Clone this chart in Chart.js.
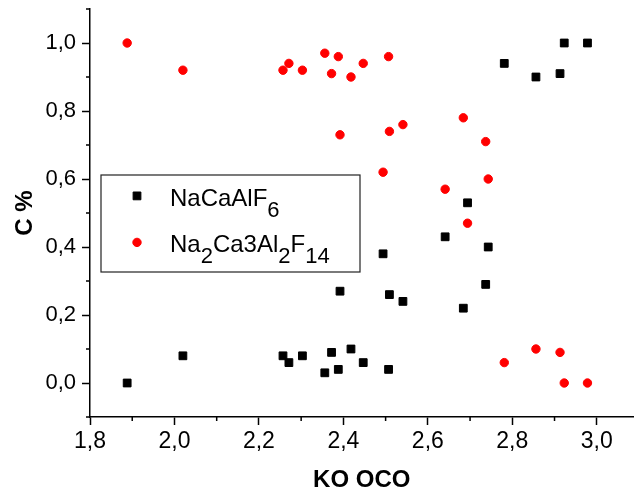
<!DOCTYPE html>
<html>
<head>
<meta charset="utf-8">
<script src="https://cdn.jsdelivr.net/npm/chart.js@4/dist/chart.umd.min.js"></script>
<style>
body { margin: 0; background: #fff; }
#wrap { width: 640px; height: 495px; position: relative; }
</style>
</head>
<body>
<div id="wrap"><canvas id="chart"></canvas></div>
<script>
// KO OCO (x) – shared by both series
const koOco = [1.888, 2.020, 2.257, 2.271, 2.303, 2.356, 2.372, 2.388, 2.418, 2.447, 2.507,
               2.392, 2.494, 2.509, 2.541, 2.641, 2.684, 2.694, 2.737, 2.743,
               2.781, 2.856, 2.913, 2.923, 2.978];
const naCaAlF6 = [0.00, 0.08, 0.08, 0.06, 0.08, 0.03, 0.09, 0.04, 0.10, 0.06, 0.04,
                  0.27, 0.38, 0.26, 0.24, 0.43, 0.22, 0.53, 0.29, 0.40,
                  0.94, 0.90, 0.91, 1.00, 1.00];
const na2Ca3Al2F14 = [1.00, 0.92, 0.92, 0.94, 0.92, 0.97, 0.91, 0.96, 0.90, 0.94, 0.96,
                      0.73, 0.62, 0.74, 0.76, 0.57, 0.78, 0.47, 0.71, 0.60,
                      0.06, 0.10, 0.09, 0.00, 0.00];

const xTicks = [1.8, 2.0, 2.2, 2.4, 2.6, 2.8, 3.0];
const xTickLabels = ['1,8', '2,0', '2,2', '2,4', '2,6', '2,8', '3,0'];
const xMinorTicks = [1.9, 2.1, 2.3, 2.5, 2.7, 2.9];
const yTicks = [0, 0.2, 0.4, 0.6, 0.8, 1.0];
const yTickLabels = ['0,0', '0,2', '0,4', '0,6', '0,8', '1,0'];
const yMinorTicks = [-0.1, 0.1, 0.3, 0.5, 0.7, 0.9, 1.1];

const seriesNames = ['NaCaAlF6', 'Na2Ca3Al2F14'];
// legend text pieces: [text, subscript?]
const legendParts = [
    [['NaCaAlF', false], ['6', true]],
    [['Na', false], ['2', true], ['Ca3Al', false], ['2', true], ['F', false], ['14', true]]
];

const FONT = 'Arial, "Liberation Sans", sans-serif';

// small ticks between the labelled ones
const minorTicks = {
    id: 'minorTicks',
    afterDraw(chart) {
        const {ctx, chartArea, scales: {x, y}} = chart;
        ctx.save();
        ctx.strokeStyle = '#000';
        ctx.lineWidth = 1.5;
        ctx.beginPath();
        xMinorTicks.forEach(v => {
            const px = x.getPixelForValue(v);
            ctx.moveTo(px, chartArea.bottom);
            ctx.lineTo(px, chartArea.bottom + 4);
        });
        yMinorTicks.forEach(v => {
            const py = y.getPixelForValue(v);
            ctx.moveTo(chartArea.left, py);
            ctx.lineTo(chartArea.left - 4, py);
        });
        ctx.stroke();
        ctx.restore();
    }
};

// boxed legend with subscripts
const formulaLegend = {
    id: 'formulaLegend',
    afterDraw(chart) {
        const ctx = chart.ctx;
        const rows = [205.5, 252];
        ctx.save();
        ctx.strokeStyle = '#222';
        ctx.lineWidth = 1.2;
        ctx.strokeRect(101, 175, 259, 97);

        chart.data.datasets.forEach((ds, i) => {
            ctx.fillStyle = ds.backgroundColor;
            ctx.strokeStyle = ds.borderColor;
            ctx.lineWidth = ds.borderWidth;
            Chart.helpers.drawPoint(ctx, {
                pointStyle: ds.pointStyle,
                radius: ds.pointRadius,
                borderWidth: ds.borderWidth,
                rotation: 0
            }, 137, rows[i] - 9.6);

            let tx = 170;
            ctx.fillStyle = '#000';
            ctx.textBaseline = 'alphabetic';
            legendParts[i].forEach(([txt, sub]) => {
                ctx.font = (sub ? '22px ' : '24px ') + FONT;
                ctx.fillText(txt, tx, rows[i] + (sub ? 11 : 0));
                tx += ctx.measureText(txt).width;
            });
        });
        ctx.restore();
    }
};

new Chart(document.getElementById('chart'), {
    type: 'scatter',
    data: {
        datasets: [{
            label: seriesNames[0],
            data: koOco.map((x, i) => ({x: x, y: naCaAlF6[i]})),
            pointStyle: 'rect',
            pointRadius: 5.5,
            backgroundColor: '#000',
            borderColor: '#000',
            borderWidth: 1
        }, {
            label: seriesNames[1],
            data: koOco.map((x, i) => ({x: x, y: na2Ca3Al2F14[i]})),
            pointStyle: 'circle',
            pointRadius: 4.2,
            backgroundColor: '#ff0000',
            borderColor: '#ff0000',
            borderWidth: 1
        }]
    },
    options: {
        responsive: true,
        maintainAspectRatio: false,
        animation: false,
        layout: { padding: { top: 9, right: 0, bottom: 0, left: 0 } },
        plugins: {
            legend: { display: false },
            tooltip: { enabled: false }
        },
        scales: {
            x: {
                type: 'linear',
                position: 'bottom',
                min: 1.8,
                max: 3.087,
                afterBuildTicks: s => { s.ticks = xTicks.map(v => ({value: v})); },
                afterFit: s => { s.height = 78; s.paddingLeft = 0; s.paddingRight = 0; },
                grid: { drawOnChartArea: false, tickLength: 8, tickColor: '#000', tickWidth: 1.5 },
                border: { display: true, color: '#000', width: 1.5 },
                ticks: {
                    callback: (v, i) => xTickLabels[i],
                    color: '#000',
                    font: { family: FONT, size: 23 },
                    padding: 3,
                    maxRotation: 0,
                    autoSkip: false
                },
                title: {
                    display: true,
                    text: 'KO OCO',
                    color: '#000',
                    font: { family: FONT, size: 24, weight: 'bold' },
                    padding: { top: 0, bottom: 0 }
                }
            },
            y: {
                type: 'linear',
                min: -0.1,
                max: 1.1,
                afterBuildTicks: s => { s.ticks = yTicks.map(v => ({value: v})); },
                afterFit: s => { s.width = 90; s.paddingTop = 0; s.paddingBottom = 0; },
                grid: { drawOnChartArea: false, tickLength: 8, tickColor: '#000', tickWidth: 1.5 },
                border: { display: true, color: '#000', width: 1.5 },
                ticks: {
                    callback: (v, i) => yTickLabels[i],
                    color: '#000',
                    font: { family: FONT, size: 22 },
                    padding: 6,
                    autoSkip: false
                },
                title: {
                    display: true,
                    text: 'C %',
                    color: '#000',
                    font: { family: FONT, size: 24, weight: 'bold' },
                    padding: { top: 10.5, bottom: 0 }
                }
            }
        }
    },
    plugins: [minorTicks, formulaLegend]
});
</script>
</body>
</html>
